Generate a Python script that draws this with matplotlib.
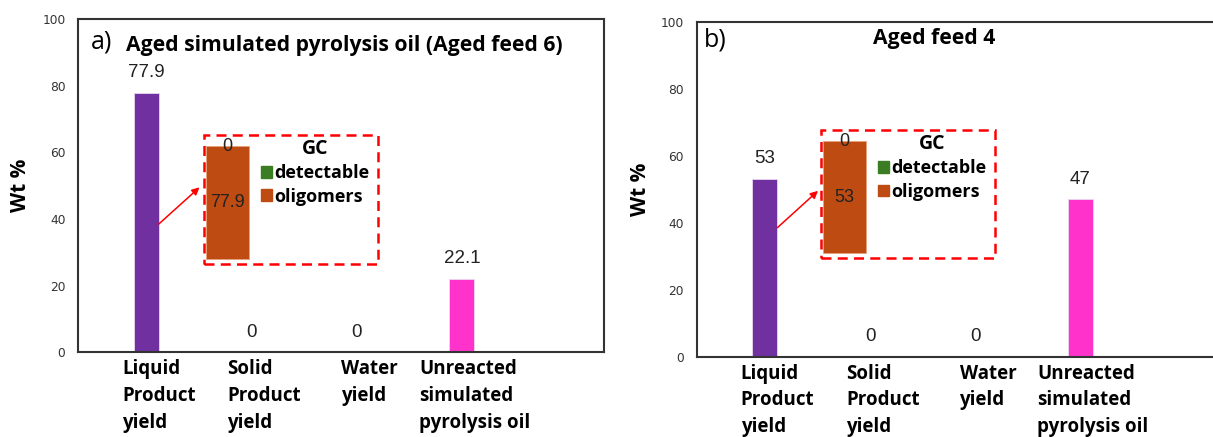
import matplotlib
matplotlib.use("Agg")
import matplotlib.pyplot as plt
import numpy as np
from matplotlib.patches import Rectangle, Patch

# --- data ---
categorias = ["Liquid\nProduct\nyield", "Solid\nProduct\nyield", "Water\nyield",
              "Unreacted\nsimulated\npyrolysis oil"]
colores = ["#7030A0", "#7030A0", "#7030A0", "#FF33CC"]

rend_a = [77.9, 0, 0, 22.1]
rend_b = [53, 0, 0, 47]

gc_detectable_a = 0
gc_oligomeros_a = 77.9
gc_detectable_b = 0
gc_oligomeros_b = 53

titulo_a = "Aged simulated pyrolysis oil (Aged feed 6)"
titulo_b = "Aged feed 4"

fuente = "Open Sans"
verde = "#3A7D22"
marron = "#BE4B11"

fig = plt.figure(figsize=(12.13, 4.37), dpi=100)


def panel(rect, valores, letra, titulo, pos_titulo, lab_x, pos_letra):
    ax = fig.add_axes(rect)
    x = np.arange(len(categorias))
    ancho = 0.237
    desplaz = 0.12
    ax.bar(x - desplaz, valores, ancho, color=colores, edgecolor="#E8D8F0",
           linewidth=0.6, zorder=2)
    for xi, v in zip(x - desplaz, valores):
        ax.annotate(f"{v:g}", (xi, v), xytext=(0, 14.5), textcoords="offset points",
                    ha="center", va="center", fontsize=13.5, color="#222222",
                    family="Liberation Sans")
    ax.set_xlim(-0.77, 4.23)
    ax.set_ylim(0, 100)
    ax.set_yticks(range(0, 101, 20))
    ax.tick_params(axis="y", length=0, pad=9, labelsize=8.8, labelcolor="#333333")
    ax.tick_params(axis="x", length=0, pad=5)
    ax.set_xticks(x)
    ax.set_xticklabels(categorias, fontsize=13.5, fontweight="bold", family=fuente,
                       multialignment="left", linespacing=1.45)
    for s in ax.spines.values():
        s.set_color("#333333")
        s.set_linewidth(1.5)
    ax.set_ylabel("Wt %", fontsize=15, fontweight="bold", family=fuente)
    ax.yaxis.set_label_coords(lab_x, 0.5)
    ax.text(pos_letra[0], pos_letra[1], letra, transform=ax.transAxes, fontsize=18,
            family=fuente, va="center", ha="left")
    ax.text(pos_titulo[0], pos_titulo[1], titulo, transform=ax.transAxes, fontsize=15.2,
            fontweight="bold", family=fuente, va="center", ha="left")
    return ax


def recuadro(ax, rect, detectable, oligomeros):
    # flecha desde la barra de liquido hacia el recuadro GC
    ax.annotate("", xy=(0.385, 49.5), xytext=(-0.12 + 0.1185, 38.5),
                arrowprops=dict(arrowstyle="-|>", color="red", lw=1.1,
                                mutation_scale=11, shrinkA=0, shrinkB=0))
    axi = fig.add_axes(rect)
    total = detectable + oligomeros
    axi.bar([0], [oligomeros], 1.0, color=marron, edgecolor="#E9A07A", linewidth=0.6)
    axi.bar([0], [detectable], 1.0, bottom=[oligomeros], color=verde)
    axi.text(0, oligomeros + detectable / 2, f"{detectable:g}", ha="center", va="center",
             fontsize=13, color="#222222", family="Liberation Sans")
    axi.text(0, oligomeros / 2, f"{oligomeros:g}", ha="center", va="center",
             fontsize=13, color="#222222", family="Liberation Sans")
    axi.set_xlim(-0.57, 3.52)
    axi.set_ylim(-0.05 * total, 1.11 * total)
    axi.axis("off")
    axi.add_patch(Rectangle((0.005, 0.005), 0.99, 0.99, transform=axi.transAxes,
                            fill=False, edgecolor="red", lw=1.8,
                            linestyle=(0, (4, 2.5)), clip_on=False))
    manejadores = [Patch(color=verde, label="detectable"),
                   Patch(color=marron, label="oligomers")]
    axi.legend(handles=manejadores, title="GC", loc="upper left",
               bbox_to_anchor=(0.26, 1.06), frameon=False,
               prop={"family": fuente, "weight": "bold", "size": 13},
               title_fontproperties={"family": fuente, "weight": "bold", "size": 14},
               handlelength=0.6, handleheight=0.6, handletextpad=0.12,
               labelspacing=0.3, borderpad=0.2)
    return axi


ax_a = panel([0.0643, 0.1938, 0.4336, 0.7627], rend_a, "a)", titulo_a,
             (0.092, 0.922), -0.089, (0.024, 0.93))
recuadro(ax_a, [0.1674, 0.3936, 0.1451, 0.2998], gc_detectable_a, gc_oligomeros_a)

ax_b = panel([0.5742, 0.1838, 0.4336, 0.7666], rend_b, "b)", titulo_b,
             (0.336, 0.951), -0.0865, (0.014, 0.945))
recuadro(ax_b, [0.676, 0.4073, 0.1449, 0.2975], gc_detectable_b, gc_oligomeros_b)

plt.savefig("out.png", dpi=100)
